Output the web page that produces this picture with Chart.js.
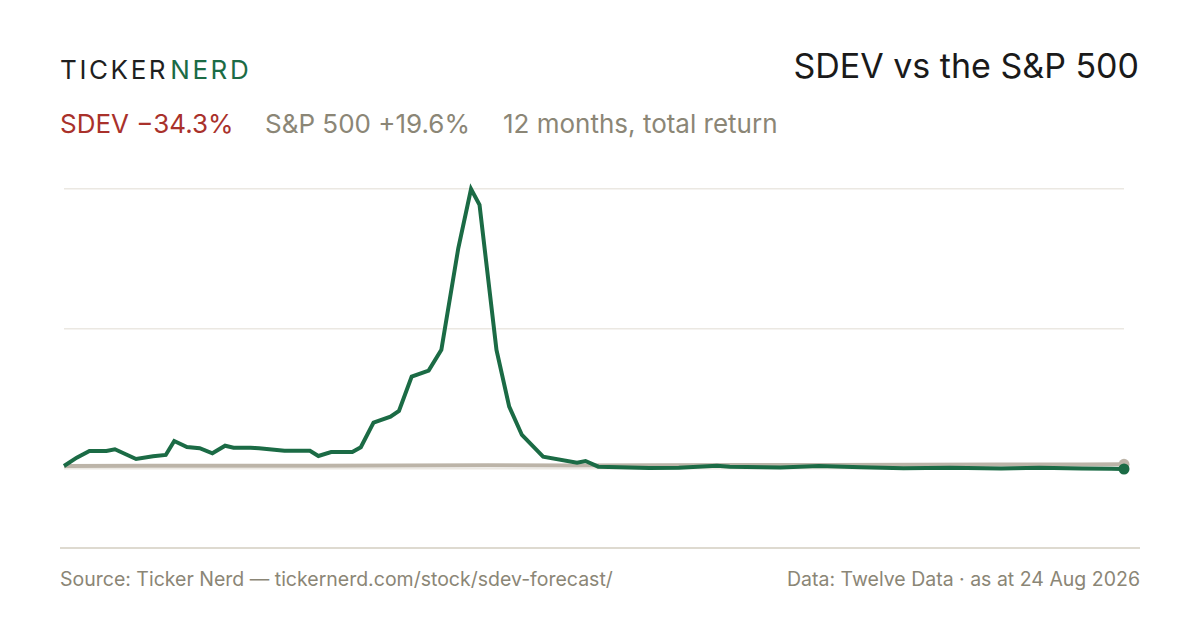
<!DOCTYPE html>
<html>
<head>
<meta charset="utf-8">
<script src="https://cdn.jsdelivr.net/npm/chart.js@4.4.1/dist/chart.umd.min.js"></script>
<style>
  html, body { margin: 0; padding: 0; }
  body { width: 1200px; height: 630px; background: #ffffff; position: relative; overflow: hidden; font-family: Inter, 'Noto Sans', sans-serif; }
  .brand { position: absolute; left: 60px; top: 54px; font-size: 26px; letter-spacing: 2.6px; color: #1f1f1f; line-height: 32px; }
  .brand .nerd { color: #1b6b45; margin-left: 2px; }
  .title { position: absolute; right: 61px; top: 46px; font-size: 34px; color: #1a1a1a; line-height: 40px; }
  .sub { position: absolute; top: 108px; font-size: 26px; line-height: 32px; color: #8b8676; }
  .sub.red { color: #a9312b; }
  .chart-box { position: absolute; left: 54px; top: 179px; width: 1080px; height: 300px; }
  .rule { position: absolute; left: 60px; top: 547px; width: 1080px; height: 2px; background: #dedad0; }
  .foot { position: absolute; top: 567px; font-size: 19.5px; line-height: 24px; color: #8b8676; }
</style>
</head>
<body>
<div class="brand">TICKER<span class="nerd">NERD</span></div>
<div class="title">SDEV vs the S&amp;P 500</div>
<div class="sub red" style="left:60px">SDEV −34.3%</div>
<div class="sub" style="left:265px">S&amp;P 500 +19.6%</div>
<div class="sub" style="left:503px">12 months, total return</div>
<div class="chart-box"><canvas id="chart"></canvas></div>
<div class="rule"></div>
<div class="foot" style="left:60px">Source: Ticker Nerd — tickernerd.com/stock/sdev-forecast/</div>
<div class="foot" style="right:60px">Data: Twelve Data · as at 24 Aug 2026</div>
<script>
// trading day index (0 = 12 months ago) and total return in %
const sdevDays = [0, 3, 6, 10, 12, 17, 21, 24, 26, 29, 32, 35, 38, 40, 44, 46, 52, 58, 60, 63, 68, 70, 73, 77, 79, 82, 86, 89, 93, 96, 98, 102, 105, 108, 113, 121, 123, 126, 131, 138, 145, 154, 157, 169, 178, 188, 198, 209, 221, 230, 240, 247, 250];
const sdevReturns = [0, 95, 172, 172, 191, 80, 111, 126, 286, 218, 203, 145, 232, 210, 210, 203, 175, 175, 115, 160, 160, 214, 496, 564, 630, 1022, 1091, 1328, 2493, 3168, 2988, 1328, 679, 355, 106, 38, 57, -8, -15, -23, -21, 2, -9, -17, 0, -15, -26, -21, -29, -21, -29, -32, -34.3];

const spxDays = [0, 20, 40, 60, 80, 100, 120, 140, 160, 180, 200, 220, 240, 250];
const spxReturns = [0, 2, 4, 3, 6, 8, 7, 10, 12, 11, 14, 16, 18, 19.6];

const sdevColor = '#1b6b45';
const spxColor = '#bcb4a8';

function toPoints(days, values) {
    return days.map((d, i) => ({ x: d, y: values[i] }));
}

// only the last point gets a dot
function endDot(values, r) {
    return values.map((v, i) => i === values.length - 1 ? r : 0);
}

const allValues = sdevReturns.concat(spxReturns);
const yMin = Math.min(...allValues);
const yMax = Math.max(...allValues);

new Chart(document.getElementById('chart'), {
    type: 'line',
    data: {
        datasets: [{
            label: 'SDEV',
            data: toPoints(sdevDays, sdevReturns),
            borderColor: sdevColor,
            backgroundColor: sdevColor,
            borderWidth: 4,
            pointRadius: endDot(sdevReturns, 5.5),
            pointBorderWidth: 0,
            tension: 0,
            clip: false
        }, {
            label: 'S&P 500',
            data: toPoints(spxDays, spxReturns),
            borderColor: spxColor,
            backgroundColor: spxColor,
            borderWidth: 4,
            pointRadius: endDot(spxReturns, 5.5),
            pointBorderWidth: 0,
            tension: 0,
            clip: false
        }]
    },
    options: {
        responsive: true,
        maintainAspectRatio: false,
        animation: false,
        layout: { padding: 10 },
        plugins: {
            legend: { display: false },
            tooltip: { enabled: false }
        },
        scales: {
            x: {
                type: 'linear',
                min: 0,
                max: 250,
                display: false
            },
            y: {
                min: yMin,
                max: yMax,
                border: { display: false },
                grid: { color: '#ebe8e2', lineWidth: 1.5, drawTicks: false },
                ticks: { display: false },
                // gridlines at the low, the middle and the high of the data
                afterBuildTicks: scale => {
                    scale.ticks = [yMin, (yMin + yMax) / 2, yMax].map(v => ({ value: v }));
                }
            }
        }
    }
});
</script>
</body>
</html>
